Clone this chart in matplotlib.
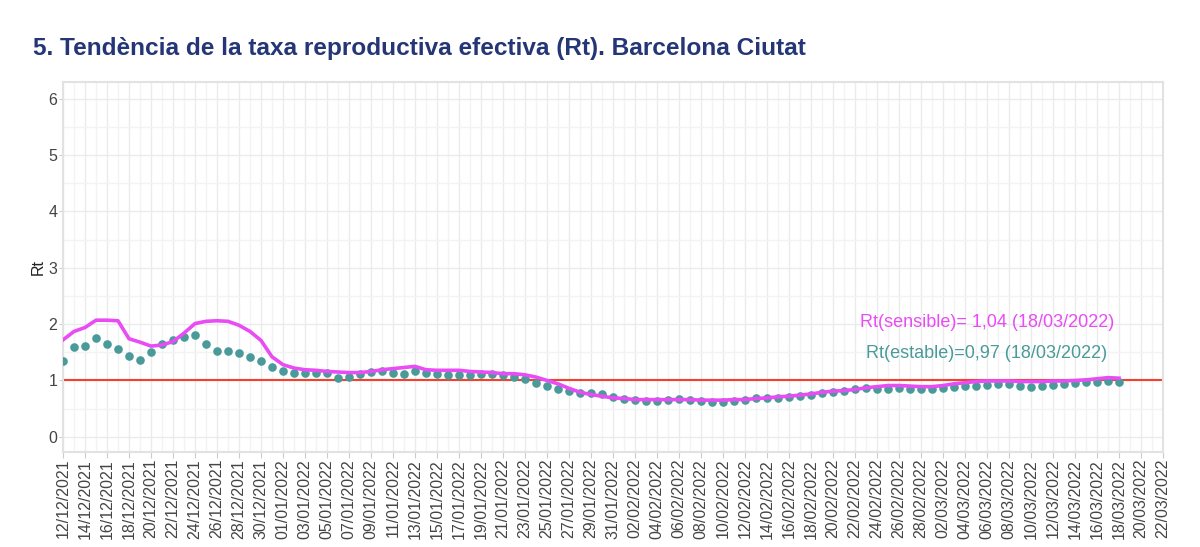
import matplotlib
matplotlib.use("Agg")
import matplotlib.pyplot as plt
import matplotlib.dates as mdates
from matplotlib.ticker import MultipleLocator
import pandas as pd

# dades llegides del grafic (12/12/2021 - 18/03/2022, una per dia)
data_inici = "2021-12-12"
data_final_eix = "2022-03-22"
rt_estable = [1.35, 1.59, 1.61, 1.75, 1.65, 1.55, 1.44, 1.37, 1.50, 1.64, 1.72, 1.78, 1.80,
              1.64, 1.52, 1.52, 1.48, 1.42, 1.34, 1.24, 1.16, 1.14, 1.13, 1.14, 1.13,
              1.04, 1.07, 1.11, 1.15, 1.16, 1.13, 1.11, 1.16, 1.13, 1.12, 1.10, 1.10, 1.10,
              1.11, 1.11, 1.09, 1.06, 1.02, 0.96, 0.91, 0.85,
              0.81, 0.78, 0.77, 0.76, 0.71, 0.67, 0.65, 0.64, 0.64, 0.66, 0.67, 0.65, 0.64,
              0.62, 0.62, 0.64, 0.66, 0.68, 0.68, 0.69, 0.71, 0.72, 0.74, 0.77, 0.79, 0.82, 0.84,
              0.86, 0.85, 0.85, 0.86, 0.85, 0.84, 0.85, 0.87, 0.89, 0.90, 0.91, 0.92, 0.93,
              0.93, 0.90, 0.89, 0.90, 0.92, 0.93, 0.96, 0.97, 0.98, 0.99, 0.97]
rt_sensible = [1.72, 1.87, 1.94, 2.07, 2.07, 2.06, 1.74, 1.68, 1.61, 1.63, 1.69, 1.84, 2.01,
               2.05, 2.06, 2.05, 1.98, 1.87, 1.71, 1.42, 1.28, 1.22, 1.19, 1.18, 1.16,
               1.15, 1.14, 1.14, 1.16, 1.19, 1.21, 1.23, 1.25, 1.19, 1.18, 1.18, 1.18, 1.16,
               1.15, 1.14, 1.12, 1.12, 1.10, 1.06, 1.00, 0.94,
               0.86, 0.79, 0.75, 0.72, 0.69, 0.68, 0.66, 0.66, 0.66, 0.66, 0.66, 0.66, 0.65,
               0.65, 0.65, 0.66, 0.66, 0.68, 0.69, 0.71, 0.72, 0.74, 0.76, 0.79, 0.81, 0.82, 0.84,
               0.87, 0.89, 0.91, 0.91, 0.90, 0.89, 0.89, 0.91, 0.94, 0.96, 0.98, 0.99, 0.99,
               0.99, 0.98, 0.98, 0.98, 0.99, 0.99, 1.00, 1.01, 1.03, 1.05, 1.04]
llindar = 1
text_sensible = "Rt(sensible)= 1,04 (18/03/2022)"
text_estable = "Rt(estable)=0,97 (18/03/2022)"
titol = "5. Tendència de la taxa reproductiva efectiva (Rt). Barcelona Ciutat"

dies = pd.date_range(data_inici, periods=len(rt_estable), freq="D")
ticks_x = pd.date_range(data_inici, data_final_eix, freq="2D")

plt.rcParams['font.family'] = ['Liberation Sans', 'DejaVu Sans']

fig = plt.figure(figsize=(12, 5.47), dpi=100)
ax = fig.add_axes([0.0525, 0.1737, 0.9167, 0.6765])

ax.axhline(llindar, color="#f4402c", lw=1.5, zorder=2)
ax.plot(dies, rt_estable, "o", color="#4a9a9a", ms=6.2, mec="none", zorder=3)
ax.plot(dies, rt_sensible, "-", color="#e94cf5", lw=2.6, zorder=4)

ax.set_xlim(pd.Timestamp(data_inici), pd.Timestamp(data_final_eix))
ax.set_ylim(-0.27, 6.3)

ax.set_xticks(ticks_x)
ax.xaxis.set_minor_locator(mdates.DayLocator(interval=1))
ax.xaxis.set_major_formatter(mdates.DateFormatter("%d/%m/%Y"))
ax.yaxis.set_major_locator(MultipleLocator(1))
ax.yaxis.set_minor_locator(MultipleLocator(0.5))

ax.grid(which="major", color="#ebebeb", lw=1)
ax.grid(which="minor", color="#f3f3f3", lw=1)
ax.set_axisbelow(True)

for s in ax.spines.values():
    s.set_color("#e2e2e2")
    s.set_linewidth(1.5)

ax.tick_params(axis="x", which="major", rotation=90, labelsize=11.5, labelcolor="#444444",
               color="#cccccc", length=4, pad=1)
ax.tick_params(axis="x", which="minor", length=0)
ax.tick_params(axis="y", which="major", labelsize=11.5, labelcolor="#444444",
               color="#cccccc", length=3, pad=1)
ax.tick_params(axis="y", which="minor", length=0)

ax.set_ylabel("Rt", fontsize=11.5, color="#222222", labelpad=2)

ax.text(0.84, 0.349, text_sensible, transform=ax.transAxes, color="#e94cf5",
        fontsize=13, ha="center", va="center")
ax.text(0.84, 0.265, text_estable, transform=ax.transAxes, color="#4a9a9a",
        fontsize=13, ha="center", va="center")

fig.text(0.0275, 0.912, titol, fontsize=17.6, fontweight="bold", color="#253677",
         ha="left", va="center")

fig.savefig("out.png", dpi=100)
